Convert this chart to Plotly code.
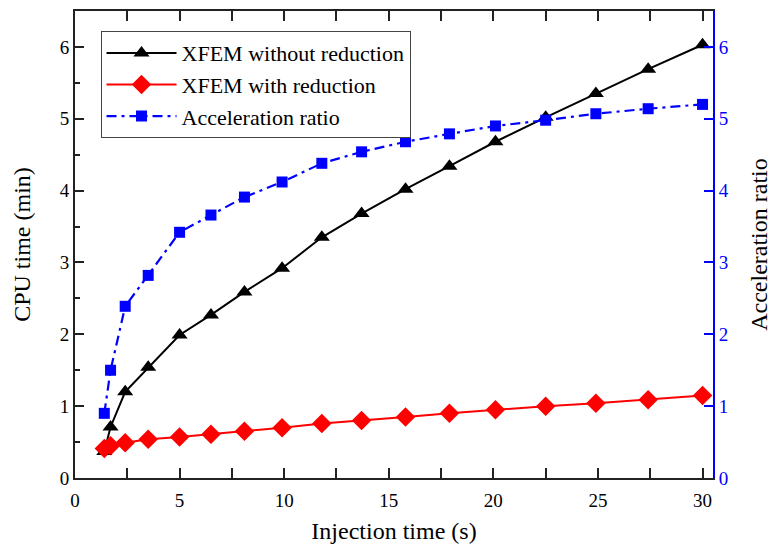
import plotly.graph_objects as go

# Injection time (s)
injection_time = [1.4, 1.7, 2.4, 3.5, 5.0, 6.5, 8.1, 9.9, 11.8, 13.7, 15.8, 17.9, 20.1, 22.5, 24.9, 27.4, 30.0]
# CPU time (min)
cpu_without_reduction = [0.37, 0.71, 1.2, 1.54, 1.99, 2.27, 2.59, 2.92, 3.35, 3.68, 4.02, 4.34, 4.68, 5.02, 5.35, 5.69, 6.03]
cpu_with_reduction = [0.41, 0.45, 0.49, 0.54, 0.57, 0.61, 0.65, 0.70, 0.76, 0.80, 0.85, 0.90, 0.95, 1.00, 1.04, 1.09, 1.15]
# Acceleration ratio (right axis)
acceleration_ratio = [0.9, 1.5, 2.39, 2.82, 3.42, 3.66, 3.91, 4.12, 4.38, 4.54, 4.68, 4.79, 4.9, 4.98, 5.07, 5.14, 5.2]

SERIF = "Liberation Serif, Times New Roman, serif"
BLUE = "#0000FF"
RED = "#FF0000"

fig = go.Figure()

fig.add_trace(go.Scatter(
    x=injection_time, y=cpu_without_reduction, name="XFEM without reduction",
    mode="lines+markers",
    line=dict(color="black", width=2),
    marker=dict(symbol="triangle-up", size=14, color="black"),
))
fig.add_trace(go.Scatter(
    x=injection_time, y=cpu_with_reduction, name="XFEM with reduction",
    mode="lines+markers",
    line=dict(color=RED, width=2),
    marker=dict(symbol="diamond", size=15, color=RED),
))
fig.add_trace(go.Scatter(
    x=injection_time, y=acceleration_ratio, name="Acceleration ratio",
    mode="lines+markers", yaxis="y2",
    line=dict(color=BLUE, width=2.2, dash="10px,5px,3px,5px"),
    marker=dict(symbol="square", size=11, color=BLUE),
))

fig.update_layout(
    width=772, height=546,
    margin=dict(l=75, r=59, t=11, b=68, autoexpand=False),
    paper_bgcolor="white", plot_bgcolor="white",
    font=dict(family=SERIF, size=19, color="black"),
    showlegend=True,
    legend=dict(
        x=0.04, y=0.957, xanchor="left", yanchor="top",
        bgcolor="white", bordercolor="#444", borderwidth=1,
        font=dict(family=SERIF, size=22, color="black"),
        tracegroupgap=0, itemwidth=70,
    ),
    xaxis=dict(
        range=[0, 30.5], tickvals=[0, 5, 10, 15, 20, 25, 30],
        showgrid=False, zeroline=False, automargin=False,
        showline=True, linecolor="#222", linewidth=2,
        mirror="allticks",
        ticks="inside", ticklen=10, tickwidth=1.5, tickcolor="#222",
        ticklabelstandoff=4,
        minor=dict(tickvals=[2.5, 7.5, 12.5, 17.5, 22.5, 27.5], ticks="inside",
                   ticklen=5, tickwidth=1.5, tickcolor="#222"),
        tickfont=dict(family=SERIF, size=19, color="black"),
        title=dict(text="Injection time (s)", font=dict(family=SERIF, size=24), standoff=12),
    ),
    yaxis=dict(
        range=[0, 6.5], tickvals=[0, 1, 2, 3, 4, 5, 6],
        showgrid=False, zeroline=False, automargin=False,
        showline=True, linecolor="#222", linewidth=2,
        ticks="inside", ticklen=9, tickwidth=1.5, tickcolor="#222",
        minor=dict(tickvals=[0.5, 1.5, 2.5, 3.5, 4.5, 5.5], ticks="inside",
                   ticklen=5, tickwidth=1.5, tickcolor="#222"),
        tickfont=dict(family=SERIF, size=19, color="black"),
        title=dict(text="CPU time (min)", font=dict(family=SERIF, size=24), standoff=22),
    ),
    yaxis2=dict(
        overlaying="y", side="right",
        range=[0, 6.5], tickvals=[0, 1, 2, 3, 4, 5, 6],
        showgrid=False, zeroline=False, automargin=False,
        showline=True, linecolor=BLUE, linewidth=2,
        ticks="inside", ticklen=9, tickwidth=1.5, tickcolor=BLUE,
        tickfont=dict(family=SERIF, size=19, color=BLUE),
        title=dict(text="Acceleration ratio", font=dict(family=SERIF, size=24, color="black"), standoff=22),
    ),
)

fig.write_html("out.html")
